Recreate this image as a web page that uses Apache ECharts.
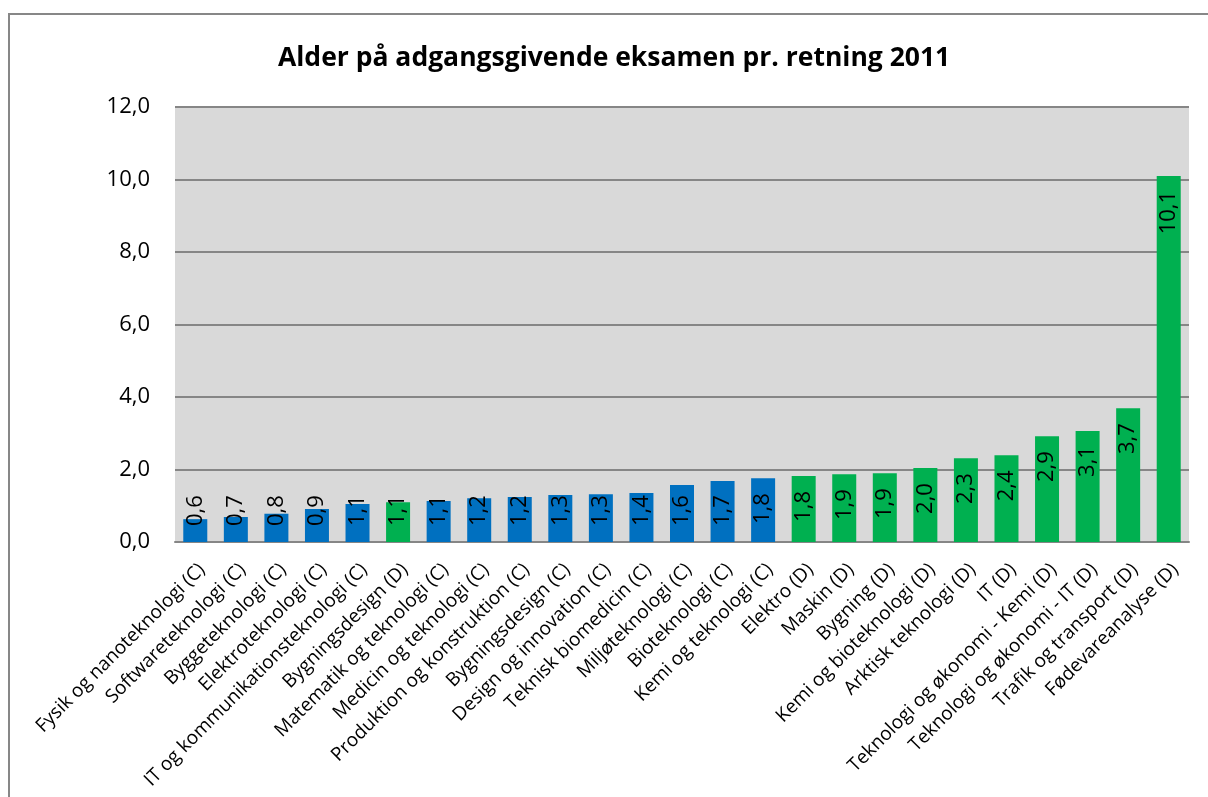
<!DOCTYPE html>
<html>
<head>
<meta charset="utf-8">
<script src="https://cdn.jsdelivr.net/npm/echarts@6/dist/echarts.min.js"></script>
<style>
  html, body { margin: 0; padding: 0; background: #fff; }
  .frame {
    position: absolute; left: 8px; top: 13px; width: 1300px; height: 900px;
    border-left: 2px solid #878787; border-top: 2px solid #878787;
  }
  #chart { position: absolute; left: 0; top: 0; width: 1208px; height: 797px; }
</style>
</head>
<body>
<div class="frame"></div>
<div id="chart"></div>
<script>
// retninger (C = civilingeniør, D = diplomingeniør)
const categories = [
  'Fysik og nanoteknologi (C)', 'Softwareteknologi (C)', 'Byggeteknologi (C)',
  'Elektroteknologi (C)', 'IT og kommunikationsteknologi (C)', 'Bygningsdesign (D)',
  'Matematik og teknologi (C)', 'Medicin og teknologi (C)', 'Produktion og konstruktion (C)',
  'Bygningsdesign (C)', 'Design og innovation (C)', 'Teknisk biomedicin (C)',
  'Miljøteknologi (C)', 'Bioteknologi (C)', 'Kemi og teknologi (C)',
  'Elektro (D)', 'Maskin (D)', 'Bygning (D)', 'Kemi og bioteknologi (D)',
  'Arktisk teknologi (D)', 'IT (D)', 'Teknologi og økonomi - Kemi (D)',
  'Teknologi og økonomi - IT (D)', 'Trafik og transport (D)', 'Fødevareanalyse (D)'
];
// alder (år) aflæst fra søjlerne
const values = [
  0.63, 0.69, 0.78, 0.91, 1.05, 1.10, 1.13, 1.21, 1.24, 1.30, 1.32, 1.35,
  1.57, 1.68, 1.76, 1.82, 1.87, 1.90, 2.04, 2.31, 2.39, 2.92, 3.06, 3.69, 10.10
];
const yTicks = [0, 2, 4, 6, 8, 10, 12];

const BLUE = '#0070C0';
const GREEN = '#00B050';
const FONT = '"Open Sans", sans-serif';

const chart = echarts.init(document.getElementById('chart'), null, { renderer: 'canvas' });

const fmt = v => v.toFixed(1).replace('.', ',');

const barData = values.map((v, i) => {
  const isD = categories[i].endsWith('(D)');
  const low = v < 1.75; // korte søjler: label holdes nede ved bunden
  return {
    value: v,
    itemStyle: { color: isD ? GREEN : BLUE },
    label: low
      ? { position: 'insideBottom', distance: 16, align: 'left' }
      : { position: 'insideTop', distance: 15, align: 'right' }
  };
});

const option = {
  animation: false,
  title: {
    text: 'Alder på adgangsgivende eksamen pr. retning 2011',
    left: 273,
    top: 40,
    textStyle: { fontFamily: FONT, fontSize: 26.5, fontWeight: 'bold', color: '#000' }
  },
  grid: { left: 175, right: 19, top: 107, bottom: 255, containLabel: false,
          show: true, backgroundColor: '#D9D9D9', borderWidth: 0 },
  xAxis: {
    type: 'category',
    data: categories,
    axisLine: { show: true, lineStyle: { color: '#868686', width: 2 } },
    axisTick: { show: false },
    axisLabel: {
      interval: 0, rotate: 45, margin: 18,
      verticalAlign: 'top',
      fontFamily: FONT, fontSize: 19, color: '#000'
    }
  },
  yAxis: {
    type: 'value',
    min: 0, max: 12, interval: 2,
    axisLine: { show: false },
    axisTick: { show: false },
    splitLine: { lineStyle: { color: '#868686', width: 2 } },
    axisLabel: {
      margin: 25, fontFamily: FONT, fontSize: 22, color: '#000',
      formatter: v => yTicks.includes(v) ? fmt(v) : ''
    }
  },
  series: [{
    type: 'bar',
    data: barData,
    barWidth: 24,
    label: {
      show: true,
      rotate: 90,
      verticalAlign: 'middle',
      fontFamily: FONT,
      fontSize: 22,
      color: '#000',
      formatter: p => fmt(p.value)
    }
  }]
};

chart.setOption(option);
</script>
</body>
</html>
